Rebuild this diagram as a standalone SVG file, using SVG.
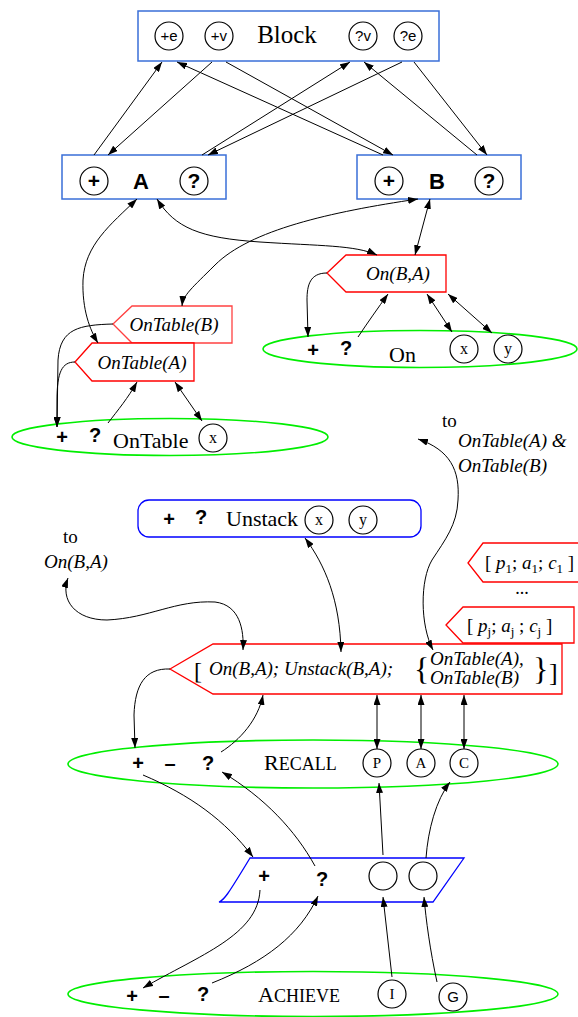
<svg xmlns="http://www.w3.org/2000/svg" width="578" height="1017" viewBox="0 0 578 1017">
<style>
.bb{fill:#fff;stroke:#3a6fd8;stroke-width:1.5}
.bu{fill:#fff;stroke:#0000ff;stroke-width:1.3}
.rd{fill:#fff;stroke:#ff0000;stroke-width:1.3}
.el{fill:none;stroke:#00ee00;stroke-width:1.6}
.ci{fill:#fff;stroke:#000;stroke-width:1.2}
.sf{font-family:"Liberation Serif",serif;fill:#000}
.it{font-family:"Liberation Serif",serif;font-style:italic;fill:#000}
.sb{font-family:"Liberation Sans",sans-serif;font-weight:bold;fill:#000}
.ss{font-family:"Liberation Sans",sans-serif;fill:#000}
.c{text-anchor:middle}
.cn path{fill:none;stroke:#000;stroke-width:1}
.e{marker-end:url(#ah)}
.d{marker-end:url(#ah);marker-start:url(#ah)}
</style>
<defs>
<marker id="ah" viewBox="0 0 10 7" refX="10" refY="3.5" markerWidth="10" markerHeight="7" markerUnits="userSpaceOnUse" orient="auto-start-reverse"><path d="M0,0 L10,3.5 L0,7 z" fill="#000"/></marker>
</defs>

<g id="block">
<rect class="bb" x="138" y="11" width="301" height="50"/>
<circle class="ci" cx="169" cy="36" r="14"/><text class="ss c" x="169" y="41" font-size="15">+e</text>
<circle class="ci" cx="219" cy="36" r="14"/><text class="ss c" x="219" y="41" font-size="15">+v</text>
<text class="sf c" x="287" y="43" font-size="25">Block</text>
<circle class="ci" cx="363" cy="36" r="14"/><text class="ss c" x="363" y="41" font-size="15">?v</text>
<circle class="ci" cx="408" cy="36" r="14"/><text class="ss c" x="408" y="41" font-size="15">?e</text>
</g>

<g id="nodeA">
<rect class="bb" x="62" y="155" width="164" height="44"/>
<circle class="ci" cx="94" cy="181" r="14"/><text class="sb c" x="94" y="188" font-size="21">+</text>
<text class="sb c" x="141" y="189" font-size="22">A</text>
<circle class="ci" cx="194" cy="181" r="14"/><text class="sb c" x="194" y="188" font-size="21">?</text>
</g>

<g id="nodeB">
<rect class="bb" x="357" y="155" width="164" height="44"/>
<circle class="ci" cx="389" cy="181" r="14"/><text class="sb c" x="389" y="188" font-size="21">+</text>
<text class="sb c" x="437" y="189" font-size="22">B</text>
<circle class="ci" cx="489" cy="181" r="14"/><text class="sb c" x="489" y="188" font-size="21">?</text>
</g>

<g id="onTableB">
<path class="rd" d="M113,324 L132,306 L232,306 L232,343 L132,343 Z" stroke-opacity="0.75"/>
<text class="it c" x="174" y="331" font-size="19">OnTable(B)</text>
</g>

<g id="onTableA">
<path class="rd" d="M75,362 L92,343 L194,343 L194,381 L92,381 Z"/>
<text class="it c" x="142" y="369" font-size="19">OnTable(A)</text>
</g>

<g id="onBA">
<path class="rd" d="M327,273 L346,255 L446,255 L446,292 L346,292 Z"/>
<text class="it c" x="398" y="280" font-size="19">On(B,A)</text>
</g>

<g id="onTable">
<ellipse class="el" cx="170" cy="437" rx="158" ry="18.5"/>
<text class="sb c" x="62" y="444" font-size="20">+</text>
<text class="sb c" x="95" y="442" font-size="20">?</text>
<text class="sf" x="113" y="448" font-size="22">OnTable</text>
<circle class="ci" cx="213" cy="438" r="14"/><text class="sf c" x="213" y="443" font-size="16">x</text>
</g>

<g id="on">
<ellipse class="el" cx="420" cy="349" rx="157" ry="18.5"/>
<text class="sb c" x="313" y="357" font-size="20">+</text>
<text class="sb c" x="346" y="355" font-size="20">?</text>
<text class="sf" x="389" y="362" font-size="22">On</text>
<circle class="ci" cx="464" cy="349" r="14"/><text class="sf c" x="464" y="354" font-size="16">x</text>
<circle class="ci" cx="508" cy="349" r="14"/><text class="sf c" x="508" y="354" font-size="16">y</text>
</g>

<g id="toOnTable">
<text class="sf" x="442" y="427" font-size="19">to</text>
<text class="it" x="458" y="447" font-size="19">OnTable(A) &amp;</text>
<text class="it" x="458" y="472" font-size="19">OnTable(B)</text>
</g>

<g id="unstack">
<rect class="bu" x="138" y="500" width="283" height="37" rx="11" ry="11"/>
<text class="sb c" x="169" y="526" font-size="20">+</text>
<text class="sb c" x="201" y="524" font-size="20">?</text>
<text class="sf" x="226" y="526" font-size="22">Unstack</text>
<circle class="ci" cx="319" cy="520" r="14"/><text class="sf c" x="319" y="525" font-size="16">x</text>
<circle class="ci" cx="363" cy="520" r="14"/><text class="sf c" x="363" y="525" font-size="16">y</text>
</g>

<g id="toOnBA">
<text class="sf" x="63" y="543" font-size="19">to</text>
<text class="it" x="44" y="568" font-size="19">On(B,A)</text>
</g>

<g id="p1">
<path class="rd" d="M468,563 L483,543 L580,543 L580,582 L483,582 Z"/>
<text class="sf" x="485" y="569" font-size="19">[ <tspan font-style="italic">p</tspan><tspan dy="4" font-size="13">1</tspan><tspan dy="-4">; </tspan><tspan font-style="italic">a</tspan><tspan dy="4" font-size="13">1</tspan><tspan dy="-4">; </tspan><tspan font-style="italic">c</tspan><tspan dy="4" font-size="13">1</tspan><tspan dy="-4"> ]</tspan></text>
</g>
<text class="sf c" x="522" y="594" font-size="18">...</text>

<g id="pj">
<path class="rd" d="M446,625 L463,607 L574,607 L574,643 L463,643 Z"/>
<text class="sf" x="467" y="632" font-size="19">[ <tspan font-style="italic">p</tspan><tspan dy="4" font-size="13">j</tspan><tspan dy="-4">; </tspan><tspan font-style="italic">a</tspan><tspan dy="4" font-size="13">j</tspan><tspan dy="-4"> ; </tspan><tspan font-style="italic">c</tspan><tspan dy="4" font-size="13">j</tspan><tspan dy="-4"> ]</tspan></text>
</g>

<g id="plan">
<path class="rd" d="M170,669 L213,644 L562,644 L562,694 L213,694 Z"/>
<text class="sf" x="194" y="679" font-size="24">[</text>
<text class="it" x="209" y="675" font-size="19">On(B,A); Unstack(B,A);</text>
<text class="sf" x="414" y="680" font-size="32">{</text>
<text class="it" x="430" y="665" font-size="19">OnTable(A),</text>
<text class="it" x="430" y="684" font-size="19">OnTable(B)</text>
<text class="sf" x="533" y="680" font-size="32">}</text>
<text class="sf" x="549" y="681" font-size="26">]</text>
</g>

<g id="recall">
<ellipse class="el" cx="313" cy="764" rx="245" ry="24"/>
<text class="sb c" x="138" y="770" font-size="20">+</text>
<text class="sb c" x="170" y="770" font-size="20">–</text>
<text class="sb c" x="208" y="770" font-size="20">?</text>
<text class="sf" x="264" y="770" font-size="22">R<tspan font-size="18">ECALL</tspan></text>
<circle class="ci" cx="377" cy="763" r="14"/><text class="sf c" x="377" y="768" font-size="15">P</text>
<circle class="ci" cx="421" cy="763" r="14"/><text class="sf c" x="421" y="768" font-size="15">A</text>
<circle class="ci" cx="464" cy="763" r="14"/><text class="sf c" x="464" y="768" font-size="15">C</text>
</g>

<g id="achieveInst">
<path class="bu" d="M219,902 C224,900 227,896 250,858 L464,858 L433,902 Z"/>
<text class="sb c" x="264" y="883" font-size="20">+</text>
<text class="sb c" x="322" y="886" font-size="20">?</text>
<circle class="ci" cx="383" cy="876" r="14"/>
<circle class="ci" cx="423" cy="876" r="14"/>
</g>

<g id="achieve">
<ellipse class="el" cx="313" cy="994" rx="245" ry="22.5"/>
<text class="sb c" x="132" y="1003" font-size="20">+</text>
<text class="sb c" x="164" y="1002" font-size="20">–</text>
<text class="sb c" x="203" y="1001" font-size="20">?</text>
<text class="sf" x="258" y="1002" font-size="22">A<tspan font-size="18">CHIEVE</tspan></text>
<circle class="ci" cx="392" cy="994" r="14"/><text class="sf c" x="392" y="999" font-size="15">I</text>
<circle class="ci" cx="453" cy="997" r="14"/><text class="ss c" x="453" y="1002" font-size="15">G</text>
</g>

<g id="connectors" class="cn">
<path class="e" d="M94,155 L162,62"/>
<path class="e" d="M212,62 L108,155"/>
<path class="e" d="M202,155 L350,62"/>
<path class="e" d="M402,62 L208,155"/>
<path class="e" d="M383,155 L177,62"/>
<path class="e" d="M226,62 L393,155"/>
<path class="e" d="M477,155 L364,62"/>
<path class="e" d="M414,62 L487,155"/>
<path class="d" d="M137,199 C110,225 85,245 83,280 C82,310 90,330 98,343"/>
<path class="d" d="M157,199 C175,228 200,238 260,242 C320,246 355,245 377,255"/>
<path class="d" d="M418,199 C330,212 250,230 215,265 C192,288 183,295 182,306"/>
<path class="d" d="M430,199 L415,255"/>
<path class="e" d="M113,324 C80,325 60,328 58,360 L57,427"/>
<path class="e" d="M75,362 C62,362 57,372 57,400 L57,427"/>
<path class="e" d="M108,423 C118,410 128,398 137,382"/>
<path class="d" d="M175,382 L202,421"/>
<path class="e" d="M327,273 C310,273 307,285 307,300 L308,337"/>
<path class="e" d="M358,337 C368,322 378,308 388,294"/>
<path class="d" d="M427,294 L452,332"/>
<path class="d" d="M448,294 L492,333"/>
<path class="d" d="M418,439 C450,450 460,470 458,500 C457,525 445,540 432,560 C420,580 420,625 433,650"/>
<path class="d" d="M305,538 C325,565 340,600 341,652"/>
<path class="d" d="M68,578 C60,600 75,620 107,620 C150,618 175,600 215,602 C240,605 244,630 243,650"/>
<path class="e" d="M170,669 C145,668 135,685 134,715 L135,748"/>
<path class="e" d="M221,752 C240,740 258,720 263,695"/>
<path class="d" d="M377,695 L377,749"/>
<path class="d" d="M421,695 L421,749"/>
<path class="d" d="M464,695 L464,749"/>
<path class="e" d="M143,775 C190,795 225,820 253,857"/>
<path class="e" d="M315,866 C295,830 265,798 222,772"/>
<path class="e" d="M383,855 L379,783"/>
<path class="e" d="M426,858 C428,830 436,800 450,782"/>
<path class="e" d="M260,890 C258,935 200,955 143,988"/>
<path class="e" d="M212,983 C265,962 300,935 318,896"/>
<path class="e" d="M392,977 L383,897"/>
<path class="e" d="M437,982 C430,950 426,920 424,897"/>
</g>
</svg>
